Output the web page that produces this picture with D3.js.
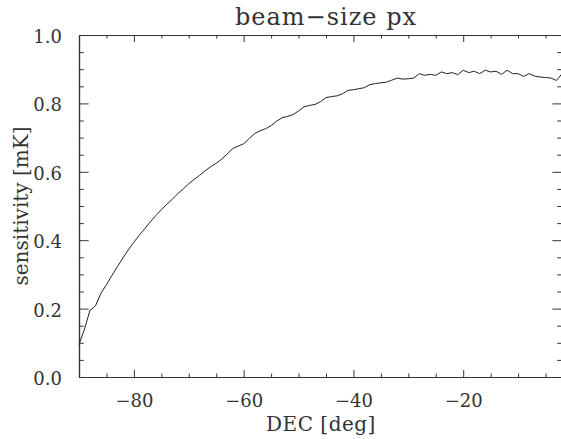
<!DOCTYPE html>
<html lang="en">
  <head>
    <meta charset="utf-8">
    <title>beam-size px</title>
    <script src="https://d3js.org/d3.v7.min.js"></script>
    <style>
      body { margin: 0; background: white; }
      text { font-family: "DejaVu Serif", serif; fill: #333; }
    </style>
  </head>
  <body>
    <div id="chart"></div>
    <script type="text/javascript">

      // data
      var dec = [-90, -89, -88, -87, -86, -85, -84, -83, -82, -81,
                 -80, -79, -78, -77, -76, -75, -74, -73, -72, -71,
                 -70, -69, -68, -67, -66, -65, -64, -63, -62, -61,
                 -60, -59, -58, -57, -56, -55, -54, -53, -52, -51,
                 -50, -49, -48, -47, -46, -45, -44, -43, -42, -41,
                 -40, -39, -38, -37, -36, -35, -34, -33, -32, -31,
                 -30, -29, -28, -27, -26, -25, -24, -23, -22, -21,
                 -20, -19, -18, -17, -16, -15, -14, -13, -12, -11,
                 -10, -9, -8, -7, -6, -5, -4, -3, -2]
      var sensitivity = [0.095, 0.140, 0.195, 0.208, 0.245, 0.270, 0.297, 0.323, 0.348, 0.372,
                         0.394, 0.415, 0.434, 0.454, 0.472, 0.489, 0.505, 0.520, 0.536, 0.550,
                         0.565, 0.578, 0.590, 0.603, 0.615, 0.625, 0.637, 0.652, 0.668, 0.675,
                         0.682, 0.697, 0.712, 0.720, 0.726, 0.735, 0.748, 0.758, 0.762, 0.767,
                         0.778, 0.790, 0.794, 0.797, 0.805, 0.817, 0.820, 0.822, 0.828, 0.838,
                         0.840, 0.843, 0.846, 0.855, 0.858, 0.860, 0.862, 0.868, 0.874, 0.871,
                         0.872, 0.874, 0.887, 0.882, 0.885, 0.882, 0.892, 0.887, 0.890, 0.884,
                         0.897, 0.890, 0.894, 0.887, 0.897, 0.892, 0.894, 0.885, 0.897, 0.887,
                         0.887, 0.879, 0.887, 0.880, 0.877, 0.876, 0.874, 0.867, 0.887]

      var xMajor = [-80, -60, -40, -20]
      var xMinor = [-85, -75, -70, -65, -55, -50, -45, -35, -30, -25, -15, -10, -5]
      var yMajor = [0.0, 0.2, 0.4, 0.6, 0.8, 1.0]
      var yMinor = [0.05, 0.1, 0.15, 0.25, 0.3, 0.35, 0.45, 0.5, 0.55, 0.65, 0.7, 0.75, 0.85, 0.9, 0.95]

      var title = "beam\u2212size px"
      var xTitle = "DEC [deg]"
      var yTitle = "sensitivity [mK]"

      var svgWidth = 561
      var svgHeight = 439
      var margin = {top: 35, left: 79}
      var plotWidth = 483
      var plotHeight = 342

      var ink = "#333"

      var svg = d3.select("#chart")
        .append("svg")
        .attr("width", svgWidth)
        .attr("height", svgHeight)

      var xScale = d3.scaleLinear()
        .domain([-90, -2])
        .range([margin.left, margin.left + plotWidth])

      var yScale = d3.scaleLinear()
        .domain([0, 1])
        .range([margin.top + plotHeight, margin.top])

      // IDL style ticks: x ticks scale with plot height, y ticks with plot width
      var xTickLen = 7
      var yTickLen = 9.6

      var bottomAxis = d3.axisBottom(xScale).tickValues(xMajor).tickSizeInner(-xTickLen).tickSizeOuter(0)
        .tickFormat(d3.format("d")).tickPadding(17)
      var topAxis = d3.axisTop(xScale).tickValues(xMajor).tickSizeInner(-xTickLen).tickSizeOuter(0).tickFormat("")
      var leftAxis = d3.axisLeft(yScale).tickValues(yMajor).tickSizeInner(-yTickLen).tickSizeOuter(0)
        .tickFormat(d3.format(".1f")).tickPadding(17)
      var rightAxis = d3.axisRight(yScale).tickValues(yMajor).tickSizeInner(-yTickLen).tickSizeOuter(0).tickFormat("")

      function styleAxis(g) {
        g.select(".domain").attr("stroke", ink).attr("stroke-width", 1.2)
        g.selectAll(".tick line").attr("stroke", ink)
        g.selectAll(".tick text")
          .attr("fill", ink)
          .style("font-family", "DejaVu Serif")
          .style("font-size", "18px")
      }

      svg.append("g")
        .attr("transform", `translate(0, ${margin.top + plotHeight})`)
        .call(bottomAxis)
        .call(styleAxis)

      svg.append("g")
        .attr("transform", `translate(0, ${margin.top})`)
        .call(topAxis)
        .call(styleAxis)

      svg.append("g")
        .attr("transform", `translate(${margin.left}, 0)`)
        .call(leftAxis)
        .call(styleAxis)
        .selectAll(".tick text").attr("dy", "0.42em")

      svg.append("g")
        .attr("transform", `translate(${margin.left + plotWidth}, 0)`)
        .call(rightAxis)
        .call(styleAxis)

      // minor ticks
      svg.append("g").call(d3.axisBottom(xScale).tickValues(xMinor).tickSizeInner(-xTickLen / 2).tickSizeOuter(0).tickFormat(""))
        .attr("transform", `translate(0, ${margin.top + plotHeight})`).call(styleAxis)
      svg.append("g").call(d3.axisTop(xScale).tickValues(xMinor).tickSizeInner(-xTickLen / 2).tickSizeOuter(0).tickFormat(""))
        .attr("transform", `translate(0, ${margin.top})`).call(styleAxis)
      svg.append("g").call(d3.axisLeft(yScale).tickValues(yMinor).tickSizeInner(-yTickLen / 2).tickSizeOuter(0).tickFormat(""))
        .attr("transform", `translate(${margin.left}, 0)`).call(styleAxis)
      svg.append("g").call(d3.axisRight(yScale).tickValues(yMinor).tickSizeInner(-yTickLen / 2).tickSizeOuter(0).tickFormat(""))
        .attr("transform", `translate(${margin.left + plotWidth}, 0)`).call(styleAxis)

      // the curve
      var points = dec.map((d, i) => [d, sensitivity[i]])
      var line = d3.line()
        .x(d => xScale(d[0]))
        .y(d => yScale(d[1]))

      svg.append("path")
        .datum(points)
        .attr("d", line)
        .attr("fill", "none")
        .attr("stroke", "#222")
        .attr("stroke-width", 1)

      // titles
      svg.append("text")
        .attr("x", 326)
        .attr("y", 25)
        .attr("text-anchor", "middle")
        .style("font-size", "24px")
        .style("letter-spacing", "1px")
        .text(title)

      svg.append("text")
        .attr("x", 321)
        .attr("y", 431)
        .attr("text-anchor", "middle")
        .style("font-size", "20px")
        .style("letter-spacing", "0.5px")
        .text(xTitle)

      svg.append("text")
        .attr("transform", `translate(28, ${margin.top + plotHeight / 2}) rotate(-90)`)
        .attr("text-anchor", "middle")
        .style("font-size", "20px")
        .text(yTitle)

    </script>
  </body>
</html>
